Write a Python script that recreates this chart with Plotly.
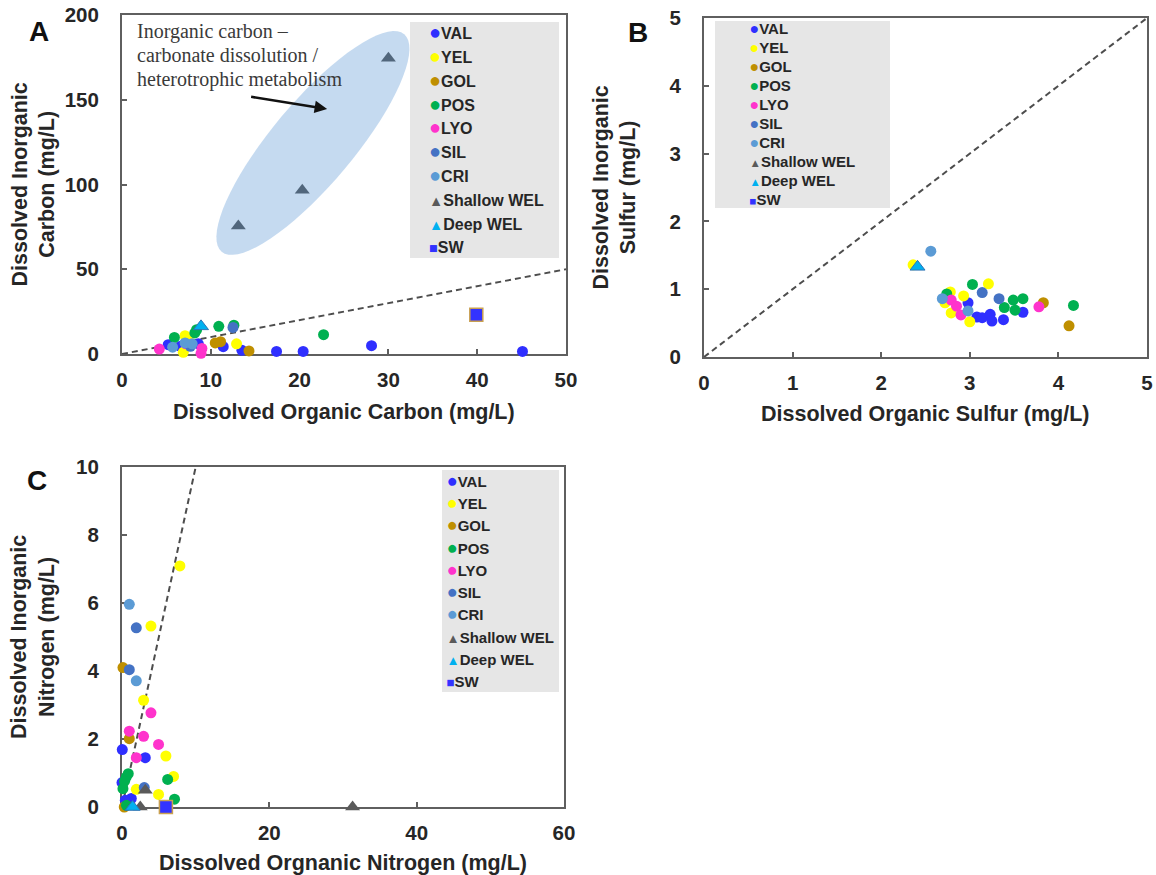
import math
import plotly.graph_objects as go

W, H = 1156, 875

GROUPS = ["VAL", "YEL", "GOL", "POS", "LYO", "SIL", "CRI", "Shallow WEL", "Deep WEL", "SW"]
COLORS = {
    "VAL": "#2f2fff", "YEL": "#ffff00", "GOL": "#bf8f00", "POS": "#00b050",
    "LYO": "#ff33cc", "SIL": "#4472c4", "CRI": "#5b9bd5",
    "Shallow WEL": "#5a5a5a", "Deep WEL": "#00b0f0", "SW": "#3333ff",
}
SYMBOLS = {g: "circle" for g in GROUPS}
SYMBOLS.update({"Shallow WEL": "triangle-up", "Deep WEL": "triangle-up", "SW": "square"})
GLYPHS = {g: "\u25cf" for g in GROUPS}
GLYPHS.update({"Shallow WEL": "\u25b2", "Deep WEL": "\u25b2", "SW": "\u25a0"})
# relative glyph sizes so the legend symbols come out about the same size
GLYPH_SCALE = {g: 1.0 for g in GROUPS}
GLYPH_SCALE.update({"Shallow WEL": 0.72, "Deep WEL": 0.72, "SW": 0.72})

# Panel A: dissolved organic vs inorganic carbon (mg/L)
DOC = {
    "VAL": [5.2, 6.6, 8.6, 11.4, 13.5, 17.4, 20.4, 28.1, 45.1],
    "YEL": [7.1, 6.9, 12.9, 7.5],
    "GOL": [10.5, 11.1, 14.3],
    "POS": [5.9, 8.2, 8.4, 10.9, 12.6, 22.7],
    "LYO": [4.2, 7.2, 8.9, 9.0],
    "SIL": [7.7, 12.5],
    "CRI": [5.7, 7.1, 7.9],
    "Shallow WEL": [13.1, 20.3, 30.0],
    "Deep WEL": [8.9],
    "SW": [39.9],
}
DIC = {
    "VAL": [5.5, 4.5, 6.0, 4.3, 2.2, 1.5, 1.5, 4.9, 1.5],
    "YEL": [10.8, 1.0, 6.0, 8.0],
    "GOL": [6.5, 7.3, 1.8],
    "POS": [9.8, 12.4, 14.3, 16.3, 17.0, 11.4],
    "LYO": [2.9, 6.0, 0.4, 3.3],
    "SIL": [4.5, 15.7],
    "CRI": [4.0, 6.5, 6.0],
    "Shallow WEL": [75.5, 96.6, 174.5],
    "Deep WEL": [16.3],
    "SW": [23.2],
}

# Panel B: dissolved organic vs inorganic sulfur (mg/L)
DOS = {
    "VAL": [2.98, 3.08, 3.14, 3.23, 3.25, 3.38, 3.60],
    "YEL": [2.36, 2.78, 2.72, 2.79, 2.93, 3.00, 3.21],
    "GOL": [3.83, 4.12],
    "POS": [2.74, 3.03, 3.39, 3.49, 3.51, 3.60, 4.17],
    "LYO": [2.79, 2.85, 2.90, 3.78],
    "SIL": [3.14, 3.33],
    "CRI": [2.56, 2.69, 2.98],
    "Shallow WEL": [],
    "Deep WEL": [2.41],
    "SW": [],
}
DIS = {
    "VAL": [0.80, 0.59, 0.58, 0.63, 0.53, 0.55, 0.66],
    "YEL": [1.36, 0.96, 0.80, 0.65, 0.90, 0.52, 1.08],
    "GOL": [0.80, 0.46],
    "POS": [0.93, 1.07, 0.73, 0.84, 0.69, 0.86, 0.76],
    "LYO": [0.84, 0.75, 0.62, 0.74],
    "SIL": [0.95, 0.86],
    "CRI": [1.56, 0.86, 0.68],
    "Shallow WEL": [],
    "Deep WEL": [1.33],
    "SW": [],
}

# Panel C: dissolved organic vs inorganic nitrogen (mg/L)
DON = {
    "VAL": [0.04, 3.16, 0.0, 1.26, 0.45],
    "YEL": [7.86, 3.93, 2.93, 5.96, 7.0, 1.94, 4.96],
    "GOL": [0.13, 0.99, 0.31],
    "POS": [0.85, 0.58, 0.35, 0.13, 6.2, 7.13, 0.6],
    "LYO": [0.99, 2.93, 3.93, 4.96, 1.94],
    "SIL": [1.94, 0.99, 3.02],
    "CRI": [0.99, 1.94],
    "Shallow WEL": [3.16, 2.48, 31.3],
    "Deep WEL": [1.44],
    "SW": [5.96],
}
DIN = {
    "VAL": [1.69, 1.45, 0.72, 0.25, 0.2],
    "YEL": [7.09, 5.32, 3.14, 1.5, 0.9, 0.52, 0.37],
    "GOL": [4.1, 2.01, 0.0],
    "POS": [0.98, 0.88, 0.76, 0.54, 0.81, 0.23, 0.05],
    "LYO": [2.23, 2.08, 2.77, 1.84, 1.45],
    "SIL": [5.27, 4.04, 0.57],
    "CRI": [5.96, 3.71],
    "Shallow WEL": [0.49, 0.0, 0.0],
    "Deep WEL": [0.0],
    "SW": [0.0],
}

RANGE_A = ([0, 50], [0, 200])
RANGE_B = ([0, 5], [0, 5])
RANGE_C = ([0, 60], [0, 10])
TICKS_A = ([0, 10, 20, 30, 40, 50], [0, 50, 100, 150, 200])
TICKS_B = ([0, 1, 2, 3, 4, 5], [0, 1, 2, 3, 4, 5])
TICKS_C = ([0, 20, 40, 60], [0, 2, 4, 6, 8, 10])

# plot-area boxes in pixels: left, right, top, bottom
BOX_A = (122, 566, 15, 354)
BOX_B = (704, 1147, 18, 357)
BOX_C = (122, 564, 467, 807)

INK = "#262626"
AXIS = "#5f5f5f"
FONT = "Liberation Sans"


def xdom(box):
    return [box[0] / W, box[1] / W]


def ydom(box):
    return [1 - box[3] / H, 1 - box[2] / H]


fig = go.Figure()

panels = [
    ("x", "y", DOC, DIC, RANGE_A),
    ("x2", "y2", DOS, DIS, RANGE_B),
    ("x3", "y3", DON, DIN, RANGE_C),
]

for xa, ya, xs, ys, rng in panels:
    # 1:1 reference line across the axis range
    lim = min(rng[0][1], rng[1][1])
    fig.add_trace(go.Scatter(
        x=[0, lim], y=[0, lim], mode="lines", xaxis=xa, yaxis=ya,
        line=dict(color="#4d4d4d", width=2, dash="6px,4px"),
        showlegend=False, hoverinfo="skip"))
    for g in GROUPS:
        if not xs[g]:
            continue
        size = 11 if SYMBOLS[g] == "circle" else 13
        line = dict(width=0)
        if g == "SW":
            line = dict(color="#c9a050", width=1.5)
        elif g == "Deep WEL":
            line = dict(color="#2e75b6", width=1)
        fig.add_trace(go.Scatter(
            x=xs[g], y=ys[g], mode="markers", name=g, xaxis=xa, yaxis=ya,
            marker=dict(color=COLORS[g], symbol=SYMBOLS[g], size=size, line=line),
            cliponaxis=False, showlegend=False))

# legend entries (glyph + label) for each panel
LEGENDS = [
    # name, axes, legend font size (sets row height), text size, glyph size, left px, top px
    ("legend", "x", "y", 16, 16, 20, 389, 16),
    ("legend2", "x2", "y2", 11.4, 15, 16, 709.5, 15),
    ("legend3", "x3", "y3", 14.8, 15, 18.5, 406.5, 465),
]
for lg, xa, ya, fs, ts, gs, lx, ty in LEGENDS:
    for g in GROUPS:
        label = (f'<span style="color:{COLORS[g]};font-size:{gs * GLYPH_SCALE[g]:.1f}px">'
                 f'{GLYPHS[g]}</span><span style="font-size:{ts}px">{g}</span>')
        fig.add_trace(go.Scatter(
            x=[None], y=[None], mode="markers", xaxis=xa, yaxis=ya,
            marker=dict(color="rgba(0,0,0,0)", size=1),
            name=label, legend=lg, showlegend=True, hoverinfo="skip"))

axis_common = dict(
    showline=True, linecolor=AXIS, linewidth=2, mirror=True,
    ticks="inside", ticklen=5, tickwidth=1.5, tickcolor=AXIS,
    showgrid=False, zeroline=False, layer="below traces",
    tickfont=dict(family=FONT, size=20.5, color=INK, weight="bold"),
)

layout = dict(
    width=W, height=H, margin=dict(l=0, r=0, t=0, b=0, autoexpand=False),
    paper_bgcolor="white", plot_bgcolor="white",
    font=dict(family=FONT, color=INK),
    showlegend=True,
)
for i, (box, rng, ticks) in enumerate([(BOX_A, RANGE_A, TICKS_A),
                                        (BOX_B, RANGE_B, TICKS_B),
                                        (BOX_C, RANGE_C, TICKS_C)]):
    sfx = "" if i == 0 else str(i + 1)
    layout["xaxis" + sfx] = dict(axis_common, domain=xdom(box), range=rng[0],
                                 tickvals=ticks[0], anchor="y" + sfx,
                                 ticklabelstandoff=6)
    layout["yaxis" + sfx] = dict(axis_common, domain=ydom(box), range=rng[1],
                                 tickvals=ticks[1], anchor="x" + sfx,
                                 ticklabelstandoff=17)

for lg, xa, ya, fs, ts, gs, lx, ty in LEGENDS:
    layout[lg] = dict(
        x=lx / W, y=1 - ty / H, xanchor="left", yanchor="top",
        bgcolor="rgba(0,0,0,0)", borderwidth=0,
        font=dict(family=FONT, size=fs, color=INK, weight="bold"),
        tracegroupgap=0, itemclick=False, itemdoubleclick=False,
    )

fig.update_layout(**layout)

# grey legend panels
LEGEND_PANELS = [(410, 559, 22, 258), (715, 890, 21, 208), (442, 559, 470, 692)]
for x0, x1, y0, y1 in LEGEND_PANELS:
    fig.add_shape(type="rect", xref="paper", yref="paper",
                  x0=x0 / W, x1=x1 / W, y0=1 - y1 / H, y1=1 - y0 / H,
                  fillcolor="#e6e6e6", line=dict(width=0), layer="below")

# shaded ellipse around the well samples in panel A (pixel geometry -> data units)
sx = (BOX_A[1] - BOX_A[0]) / (RANGE_A[0][1] - RANGE_A[0][0])
sy = (BOX_A[3] - BOX_A[2]) / (RANGE_A[1][1] - RANGE_A[1][0])
ecx, ecy, ea, eb, eang = 21.5, 124.5, 142, 41, math.radians(50)
pts = []
for k in range(73):
    t = 2 * math.pi * k / 72
    dx = ea * math.cos(t) * math.cos(eang) - eb * math.sin(t) * math.sin(eang)
    dy = ea * math.cos(t) * math.sin(eang) + eb * math.sin(t) * math.cos(eang)
    pts.append(f"{ecx + dx / sx:.4f},{ecy + dy / sy:.4f}")
fig.add_shape(type="path", xref="x", yref="y", path="M" + " L".join(pts) + " Z",
              fillcolor="rgba(62,132,205,0.30)", line=dict(width=0), layer="above")

ann = []
NOTE_LINES = ["Inorganic carbon \u2013", "carbonate dissolution /", "heterotrophic metabolism"]
for k, line_text in enumerate(NOTE_LINES):
    ann.append(dict(text=line_text, xref="paper", yref="paper",
                    x=135 / W, y=1 - (31.7 + 23.8 * k) / H,
                    xanchor="left", yanchor="middle", align="left", showarrow=False,
                    font=dict(family="Liberation Serif", size=20, color="#3a3a3a")))
ann.append(dict(text="", xref="x", yref="y", x=23.1, y=144.6, ax=-77.5, ay=-12.3,
                showarrow=True, arrowhead=2, arrowsize=1, arrowwidth=2.5,
                arrowcolor="#111111"))

titles = [
    ("Dissolved Organic Carbon (mg/L)", 344, 412, 0),
    ("Dissolved Organic Sulfur (mg/L)", 925.5, 414, 0),
    ("Dissolved Orgnanic Nitrogen (mg/L)", 343, 862.5, 0),
    ("Dissolved Inorganic<br>Carbon (mg/L)", 33, 184.5, -90),
    ("Dissolved Inorganic<br>Sulfur (mg/L)", 614, 187.5, -90),
    ("Dissolved Inorganic<br>Nitrogen (mg/L)", 33, 637, -90),
]
for text, px, py, ang in titles:
    ann.append(dict(text=text, xref="paper", yref="paper", x=px / W, y=1 - py / H,
                    xanchor="center", yanchor="middle", showarrow=False, textangle=ang,
                    font=dict(family=FONT, size=21.5, color=INK, weight="bold")))

for letter, px, py in [("A", 39, 31), ("B", 638, 33), ("C", 37, 480)]:
    ann.append(dict(text=letter, xref="paper", yref="paper", x=px / W, y=1 - py / H,
                    xanchor="center", yanchor="middle", showarrow=False,
                    font=dict(family=FONT, size=28, color="#111111", weight="bold")))

fig.update_layout(annotations=ann)
fig.write_html("out.html")
